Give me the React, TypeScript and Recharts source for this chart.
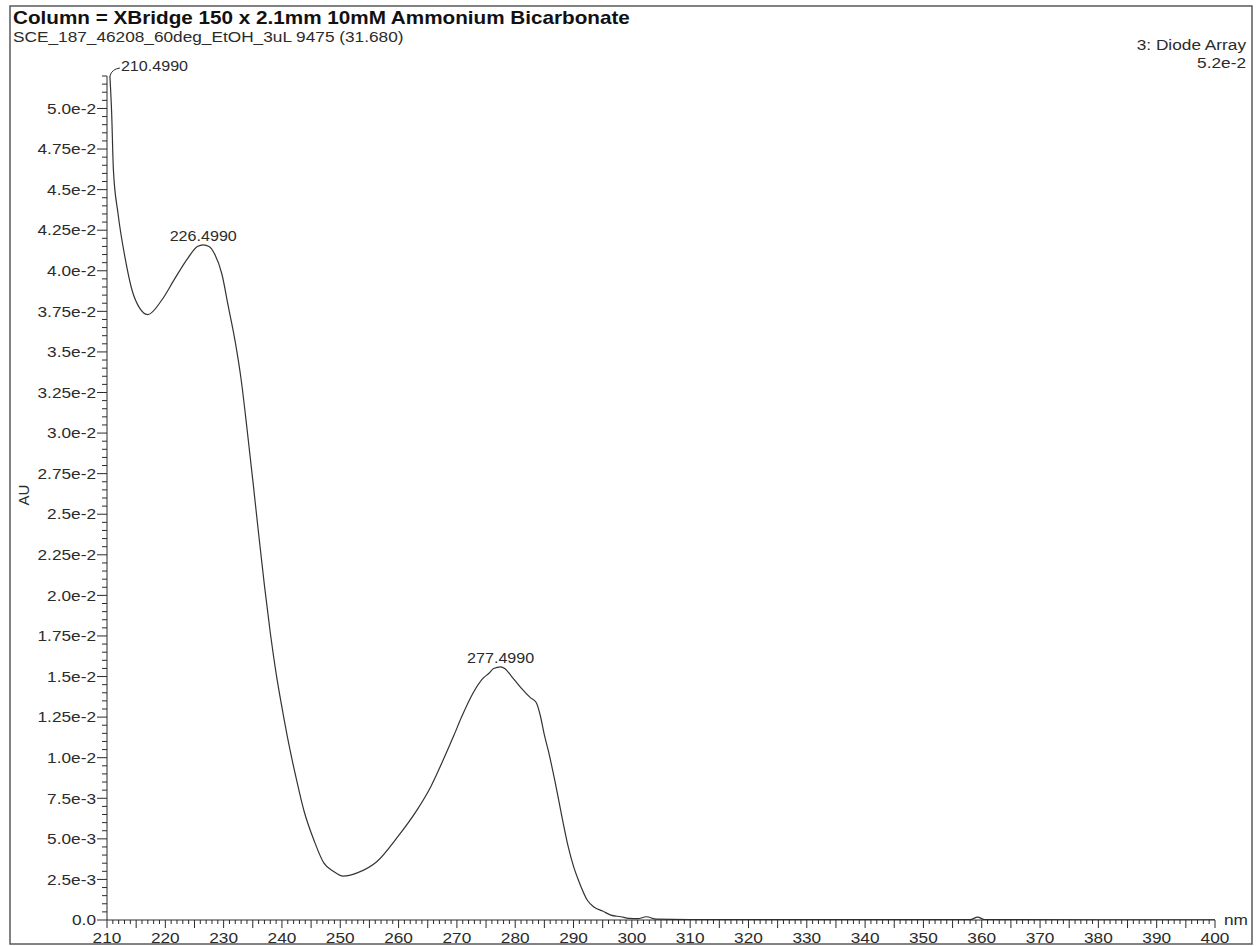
import React from 'react';
import { LineChart, Line, XAxis, YAxis } from 'recharts';

// UV spectrum (diode array) — wavelength in nm, absorbance in AU
const WAVELENGTH = [
  210.499, 210.8, 211.1, 211.9, 213.1, 214.3, 215.6, 217.0, 219.4, 221.6,
  223.9, 225.5, 226.499, 227.5, 228.5, 229.7, 230.8, 232.0, 233.0, 234.0,
  235.0, 236.0, 237.0, 238.0, 239.0, 240.0, 241.2, 242.4, 243.8, 245.5,
  247.2, 248.8, 250.5, 252.9, 256.3, 259.8, 263.2, 265.5, 267.7, 269.4,
  270.8, 272.8, 274.5, 275.5, 276.3, 277.499, 278.2, 279.4, 281.0, 282.6,
  283.6, 284.3, 285.0, 285.7, 286.9, 288.1, 289.1, 290.0, 290.9, 292.4,
  293.5, 295.0, 296.4, 298.1, 299.5, 301.0, 302.5, 304.2, 310.0, 330.0,
  350.0, 358.0, 359.3, 360.5, 380.0, 400.0,
];
const ABSORBANCE = [
  0.0520, 0.0497, 0.0462, 0.0435, 0.0408, 0.0388, 0.0377, 0.0373, 0.0382, 0.0395,
  0.0408, 0.0415, 0.0416, 0.0415, 0.0410, 0.0398, 0.0378, 0.0356, 0.0333, 0.0303,
  0.0271, 0.0238, 0.0206, 0.0177, 0.0152, 0.0131, 0.0108, 0.0088, 0.0067, 0.0049,
  0.0035, 0.0030, 0.0027, 0.0029, 0.0036, 0.0051, 0.0068, 0.0082, 0.0099, 0.0113,
  0.0125, 0.0140, 0.0149, 0.0152, 0.0155, 0.0156, 0.0155, 0.0150, 0.0143, 0.0137,
  0.0134, 0.0126, 0.0114, 0.0104, 0.0084, 0.0062, 0.0045, 0.0033, 0.0024, 0.0012,
  0.0008, 0.00055, 0.0003, 0.0002, 0.0001, 0.00008, 0.0002, 0.00005, 0.00003, 0.00002,
  0.00002, 0.00002, 0.00018, 0.00002, 0.00001, 0.00001,
];
const PEAK_WAVELENGTHS = [210.499, 226.499, 277.499];

const X_LABELS = [210, 220, 230, 240, 250, 260, 270, 280, 290, 300, 310, 320, 330, 340, 350, 360, 370, 380, 390, 400];
const Y_LABEL_VALUES = [0, 0.0025, 0.005, 0.0075, 0.01, 0.0125, 0.015, 0.0175, 0.02, 0.0225, 0.025, 0.0275, 0.03, 0.0325, 0.035, 0.0375, 0.04, 0.0425, 0.045, 0.0475, 0.05];
const Y_LABELS = ['0.0', '2.5e-3', '5.0e-3', '7.5e-3', '1.0e-2', '1.25e-2', '1.5e-2', '1.75e-2', '2.0e-2', '2.25e-2', '2.5e-2', '2.75e-2', '3.0e-2', '3.25e-2', '3.5e-2', '3.75e-2', '4.0e-2', '4.25e-2', '4.5e-2', '4.75e-2', '5.0e-2'];

const TITLE = 'Column = XBridge 150 x 2.1mm 10mM Ammonium Bicarbonate';
const SUBTITLE = 'SCE_187_46208_60deg_EtOH_3uL 9475 (31.680)';
const DETECTOR = '3: Diode Array';
const FULL_SCALE = '5.2e-2';

const data = WAVELENGTH.map((nm, i) => ({ nm, au: ABSORBANCE[i] }));

// minor ticks: every 1 nm, every 0.5e-3 AU
const X_TICKS = Array.from({ length: 191 }, (_, i) => 210 + i);
const Y_TICKS = Array.from({ length: 105 }, (_, i) => Math.round(i * 5) / 10000);

const FONT = '"Liberation Sans", Arial, sans-serif';
const INK = '#2b2b2b';
const STRETCH = 1.15;

const XTick = (props: any) => {
  const { x, y, payload } = props;
  const v = Math.round(payload.value);
  const len = v % 5 === 0 ? 8 : 4;
  const showLabel = X_LABELS.includes(v);
  return (
    <g>
      <line x1={x} x2={x} y1={y} y2={y + len} stroke={INK} strokeWidth={1} />
      {showLabel && (
        <text
          transform={`translate(${x},${y + 18}) scale(${STRETCH},1)`}
          textAnchor="middle"
          fontFamily={FONT}
          fontSize={15}
          fill={INK}
          dy="0.35em"
        >
          {v}
        </text>
      )}
    </g>
  );
};

const YTick = (props: any) => {
  const { x, y, payload } = props;
  const step = Math.round(payload.value * 10000);
  const major = step % 25 === 0;
  const idx = Y_LABEL_VALUES.findIndex((t) => Math.abs(t - payload.value) < 1e-7);
  const len = major ? 10 : 5;
  return (
    <g>
      <line x1={x - len} x2={x} y1={y} y2={y} stroke={INK} strokeWidth={1} />
      {idx >= 0 && (
        <text
          transform={`translate(${x - 11},${y}) scale(${STRETCH},1)`}
          textAnchor="end"
          fontFamily={FONT}
          fontSize={15}
          fill={INK}
          dy="0.35em"
        >
          {Y_LABELS[idx]}
        </text>
      )}
    </g>
  );
};

const PeakLabel = (props: any) => {
  const { x, y, index } = props;
  const nm = data[index]?.nm;
  if (!PEAK_WAVELENGTHS.includes(nm)) return null;
  const label = nm.toFixed(4);
  if (index === 0) {
    return (
      <g>
        <path d={`M${x},${y} Q${x + 2},${y - 7} ${x + 10},${y - 8}`} fill="none" stroke={INK} strokeWidth={1} />
        <text
          transform={`translate(${x + 11},${y - 10}) scale(${STRETCH},1)`}
          fontFamily={FONT}
          fontSize={14}
          fill={INK}
          dy="0.35em"
        >
          {label}
        </text>
      </g>
    );
  }
  return (
    <text
      transform={`translate(${x},${y - 4}) scale(${STRETCH},1)`}
      textAnchor="middle"
      fontFamily={FONT}
      fontSize={14}
      fill={INK}
    >
      {label}
    </text>
  );
};

export default function App() {
  const W = 1257;
  const H = 946;
  return (
    <div style={{ position: 'absolute', left: 0, top: 0, width: W, height: H, background: '#fff' }}>
      <LineChart
        width={W}
        height={H}
        data={data}
        margin={{ top: 76, right: 42, bottom: 0, left: 0 }}
      >
        <XAxis
          dataKey="nm"
          type="number"
          domain={[210, 400]}
          ticks={X_TICKS}
          interval={0}
          tick={<XTick />}
          tickLine={false}
          tickSize={0}
          tickMargin={0}
          height={26}
          axisLine={{ stroke: INK, strokeWidth: 1 }}
          allowDataOverflow
        />
        <YAxis
          type="number"
          domain={[0, 0.052]}
          ticks={Y_TICKS}
          interval={0}
          tick={<YTick />}
          tickLine={false}
          tickSize={0}
          tickMargin={0}
          width={107}
          axisLine={{ stroke: INK, strokeWidth: 1 }}
          allowDataOverflow
        />
        <Line
          dataKey="au"
          type="monotone"
          stroke="#333"
          strokeWidth={1.2}
          dot={false}
          isAnimationActive={false}
          label={<PeakLabel />}
        />
      </LineChart>
      <svg
        width={W}
        height={H}
        style={{ position: 'absolute', left: 0, top: 0, pointerEvents: 'none' }}
      >
        <rect x={10} y={6} width={1242} height={938} fill="none" stroke="#5a5a5a" strokeWidth={1.5} />
        <text transform={`translate(13,24) scale(${STRETCH},1)`} fontFamily={FONT} fontWeight="bold" fontSize={18} fill="#111">
          {TITLE}
        </text>
        <text transform={`translate(13,42) scale(${STRETCH},1)`} fontFamily={FONT} fontSize={15} fill={INK}>
          {SUBTITLE}
        </text>
        <text transform={`translate(1246,50) scale(${STRETCH},1)`} textAnchor="end" fontFamily={FONT} fontSize={15} fill={INK}>
          {DETECTOR}
        </text>
        <text transform={`translate(1246,68) scale(${STRETCH},1)`} textAnchor="end" fontFamily={FONT} fontSize={15} fill={INK}>
          {FULL_SCALE}
        </text>
        <text transform={`translate(1224,925) scale(${STRETCH},1)`} fontFamily={FONT} fontSize={15} fill={INK}>
          nm
        </text>
        <text transform="translate(24,495) rotate(-90)" textAnchor="middle" fontFamily={FONT} fontSize={15} fill={INK} dy="0.35em">
          AU
        </text>
      </svg>
    </div>
  );
}
